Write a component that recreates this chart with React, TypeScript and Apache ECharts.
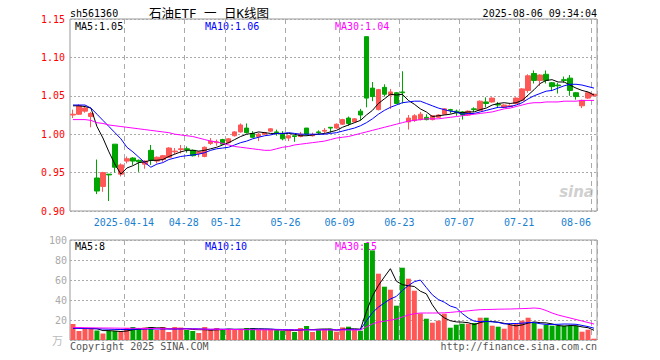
import React, { useEffect, useRef } from 'react';
import * as echarts from 'echarts';

const dates = ['2025-03-31','2025-04-01','2025-04-02','2025-04-03','2025-04-07','2025-04-08','2025-04-09','2025-04-10','2025-04-11','2025-04-14','2025-04-15','2025-04-16','2025-04-17','2025-04-18','2025-04-21','2025-04-22','2025-04-23','2025-04-24','2025-04-25','2025-04-28','2025-04-29','2025-04-30','2025-05-06','2025-05-07','2025-05-08','2025-05-09','2025-05-12','2025-05-13','2025-05-14','2025-05-15','2025-05-16','2025-05-19','2025-05-20','2025-05-21','2025-05-22','2025-05-23','2025-05-26','2025-05-27','2025-05-28','2025-05-29','2025-05-30','2025-06-03','2025-06-04','2025-06-05','2025-06-06','2025-06-09','2025-06-10','2025-06-11','2025-06-12','2025-06-13','2025-06-16','2025-06-17','2025-06-18','2025-06-19','2025-06-20','2025-06-23','2025-06-24','2025-06-25','2025-06-26','2025-06-27','2025-06-30','2025-07-01','2025-07-02','2025-07-03','2025-07-04','2025-07-07','2025-07-08','2025-07-09','2025-07-10','2025-07-11','2025-07-14','2025-07-15','2025-07-16','2025-07-17','2025-07-18','2025-07-21','2025-07-22','2025-07-23','2025-07-24','2025-07-25','2025-07-28','2025-07-29','2025-07-30','2025-07-31','2025-08-01','2025-08-04','2025-08-05','2025-08-06'];

const labeledDates = ['2025-04-14','2025-04-28','2025-05-12','2025-05-26','2025-06-09','2025-06-23','2025-07-07','2025-07-21','2025-08-06'];

const opens = [1.025,1.026,1.030,1.023,0.943,0.932,0.948,0.987,0.948,0.965,
 0.969,0.966,0.961,0.979,0.965,0.967,0.970,0.977,0.980,0.981,
 0.979,0.975,0.971,0.988,0.989,0.993,0.989,0.998,1.003,1.008,
 1.001,0.997,1.000,1.004,1.003,1.000,0.995,0.998,0.997,1.008,
 0.998,1.003,1.004,1.009,1.008,1.013,1.021,1.016,1.030,1.127,
 1.060,1.032,1.061,1.051,1.054,1.055,1.016,1.018,1.019,1.022,
 1.019,1.022,1.026,1.032,1.030,1.029,1.025,1.033,1.031,1.042,
 1.042,1.039,1.035,1.036,1.040,1.044,1.057,1.079,1.070,1.078,
 1.067,1.064,1.071,1.073,1.054,1.037,1.047,1.050];
const closes = [1.026,1.037,1.034,1.027,0.926,0.950,0.947,0.957,0.960,0.968,
 0.965,0.964,0.965,0.966,0.970,0.972,0.982,0.978,0.981,0.980,
 0.972,0.977,0.983,0.991,0.990,0.987,0.994,1.003,1.012,1.002,
 0.996,1.000,1.002,1.007,1.002,0.994,0.998,0.997,1.000,1.000,
 0.999,1.002,1.005,1.008,1.013,1.019,1.014,1.020,1.025,1.047,
 1.049,1.058,1.052,1.055,1.040,1.054,1.021,1.024,1.026,1.019,
 1.024,1.025,1.033,1.031,1.028,1.025,1.030,1.032,1.043,1.040,
 1.047,1.038,1.038,1.037,1.047,1.059,1.076,1.070,1.077,1.070,
 1.062,1.063,1.070,1.057,1.049,1.044,1.054,1.052];
const lows = [1.021,1.025,1.028,1.009,0.922,0.925,0.913,0.950,0.945,0.962,
 0.960,0.951,0.955,0.960,0.962,0.964,0.969,0.974,0.975,0.976,
 0.971,0.970,0.970,0.986,0.985,0.986,0.988,0.997,1.002,1.001,
 0.995,0.991,0.999,1.003,0.998,0.992,0.991,0.990,0.996,0.998,
 0.997,0.999,1.000,1.002,1.007,1.012,1.011,1.015,1.018,1.035,
 1.043,1.031,1.049,1.033,1.039,1.040,1.006,1.016,1.018,1.018,
 1.018,1.021,1.025,1.027,1.024,1.019,1.024,1.029,1.030,1.035,
 1.041,1.034,1.034,1.035,1.039,1.043,1.054,1.066,1.063,1.066,
 1.056,1.053,1.067,1.050,1.045,1.034,1.046,1.049];
const highs = [1.032,1.039,1.037,1.029,0.967,0.951,0.948,0.987,0.962,0.971,
 0.970,0.967,0.966,0.986,0.971,0.973,0.983,0.982,0.986,0.984,
 0.980,0.978,0.984,0.995,0.993,0.994,0.995,1.004,1.014,1.014,
 1.004,1.002,1.003,1.008,1.006,1.004,0.999,0.998,1.003,1.008,
 1.002,1.005,1.008,1.009,1.014,1.020,1.023,1.021,1.033,1.127,
 1.068,1.059,1.065,1.059,1.055,1.082,1.025,1.026,1.029,1.026,
 1.025,1.026,1.034,1.033,1.032,1.030,1.031,1.035,1.044,1.048,
 1.048,1.042,1.039,1.039,1.048,1.060,1.078,1.083,1.078,1.083,
 1.068,1.067,1.075,1.077,1.055,1.045,1.055,1.053];

const priceMA5 = [1.037,1.037,1.036,1.034,1.010,0.995,0.977,0.961,0.948,0.956,
 0.959,0.963,0.964,0.966,0.966,0.967,0.971,0.974,0.977,0.979,
 0.979,0.978,0.979,0.981,0.983,0.986,0.989,0.993,0.997,1.000,
 1.001,1.003,1.002,1.001,1.001,1.001,1.001,1.000,0.998,0.998,
 0.999,1.000,1.001,1.003,1.005,1.009,1.012,1.015,1.018,1.025,
 1.031,1.040,1.046,1.052,1.051,1.052,1.044,1.039,1.033,1.029,
 1.023,1.024,1.025,1.026,1.028,1.028,1.029,1.029,1.032,1.034,
 1.038,1.040,1.041,1.040,1.041,1.044,1.051,1.058,1.066,1.070,
 1.071,1.068,1.068,1.064,1.060,1.057,1.055,1.051];
const priceMA10 = [1.038,1.038,1.038,1.034,1.026,1.018,1.010,1.002,0.994,0.983,
 0.977,0.970,0.963,0.957,0.961,0.963,0.967,0.969,0.971,0.972,
 0.973,0.974,0.976,0.979,0.981,0.982,0.983,0.986,0.989,0.991,
 0.994,0.996,0.998,0.999,1.001,1.001,1.002,1.001,1.000,1.000,
 1.000,1.000,1.000,1.001,1.002,1.004,1.006,1.008,1.011,1.015,
 1.020,1.026,1.031,1.035,1.038,1.041,1.042,1.043,1.043,1.040,
 1.037,1.034,1.032,1.030,1.029,1.026,1.027,1.027,1.029,1.031,
 1.033,1.035,1.035,1.036,1.038,1.041,1.046,1.050,1.053,1.056,
 1.057,1.060,1.063,1.065,1.065,1.064,1.062,1.060];
const priceMA30 = [1.019,1.019,1.019,1.018,1.015,1.014,1.012,1.011,1.010,1.009,
 1.008,1.007,1.006,1.005,1.004,1.003,1.002,1.000,0.999,0.998,
 0.997,0.995,0.993,0.991,0.990,0.988,0.986,0.984,0.983,0.982,
 0.981,0.980,0.979,0.979,0.981,0.983,0.984,0.986,0.987,0.988,
 0.989,0.990,0.991,0.993,0.995,0.996,0.997,0.999,1.001,1.003,
 1.005,1.007,1.009,1.011,1.013,1.015,1.017,1.018,1.019,1.020,
 1.020,1.020,1.021,1.022,1.023,1.024,1.025,1.026,1.027,1.028,
 1.029,1.031,1.033,1.034,1.036,1.038,1.040,1.041,1.041,1.042,
 1.042,1.042,1.043,1.043,1.043,1.044,1.044,1.044];

const volumes = [16,9,11,11,9.5,6.5,9,9,8.5,12,
 13,12,12.5,13,10,13,8,13,12.5,10,
 9,7,13,10,12,10,10,11,11,12,
 12,10,10,10,10,9,10,8,12,14,
 8,10,11,11.3,8.3,12.6,13.3,10.3,9.3,97,
 89.6,66.3,53.3,50.3,34.3,72.3,61.3,49.3,26.6,21.3,
 17.3,19.3,26.3,12.3,15.3,16.3,16.3,17,22.3,22.3,
 14.3,13.3,11.3,15.3,16.3,19.3,22.3,17.3,11.3,15.3,
 14.3,14.3,14.3,14.3,14.3,8.3,10.3,1.3];
const volMA5 = [12,12,11.5,11.5,11.3,9.4,9.4,9.0,8.5,9.0,
 10.3,10.9,11.6,12.5,12.1,12.1,11.3,11.4,11.3,11.3,
 10.5,10.3,10.3,9.8,10.2,10.4,11,10.6,10.8,10.8,
 11.2,11.2,11,10.8,10.4,9.8,9.8,9.4,9.8,10.6,
 10.4,10.8,11,10.9,9.7,10.7,11.1,11.2,10.8,28.5,
 43.9,54.5,63.1,71.3,58.8,55.3,54.3,53.5,48.8,46.2,
 35.2,26.8,22.2,19.3,18.1,17.9,17.3,15.4,17.4,18.8,
 18.4,17.8,16.7,15.3,14.1,15.1,16.9,18.1,17.3,17.1,
 16.1,14.5,13.9,14.5,14.3,13.1,12.3,9.7];
const volMA10 = [11.8,11.6,11.5,11.3,11.2,11.0,10.8,10.6,10.5,10.5,
 10.6,10.8,10.9,11.0,11.0,11.0,10.9,10.9,11.0,11.3,
 11.3,11.2,10.9,10.6,10.8,10.8,10.7,10.7,10.6,10.5,
 10.8,10.8,10.9,10.8,10.6,10.5,10.5,10.3,10.2,10.5,
 10.2,10.3,10.4,10.4,10.3,10.4,10.6,10.6,10.5,19.1,
 27.3,32.9,37.1,41.0,43.6,49.6,54.4,58.3,60.0,52.5,
 45.2,40.5,37.8,34.0,32.1,26.5,22.0,18.8,18.4,18.5,
 18.2,17.6,16.1,16.4,16.5,16.8,17.4,17.4,16.3,15.6,
 15.6,15.7,16.0,15.9,15.7,14.6,13.4,11.8];
const volMA30 = [12.5,12.4,12.3,12.2,12.1,12.0,12.0,11.9,11.8,11.8,
 11.7,11.6,11.5,11.5,11.4,11.3,11.2,11.2,11.1,11.0,
 11.0,10.9,10.8,10.8,10.7,10.6,10.5,10.5,10.4,10.3,
 10.3,10.2,10.2,10.1,10.1,10.0,10.0,10.0,10.0,10.0,
 10.0,10.0,10.0,10.0,10.0,10.0,10.0,10.0,10.0,13.1,
 16.0,18.0,18.8,19.8,21.0,23.0,25.0,26.3,27.0,27.0,
 27.0,27.0,27.2,27.6,28.2,28.6,29.2,29.8,30.3,30.5,
 30.6,30.8,30.9,31.0,31.2,31.4,31.6,32.0,31.5,29.5,
 27.0,25.0,23.5,22.0,20.5,19.0,17.5,16.0];

const UP = '#ff5656';
const DOWN = '#00a600';
const MONO = '"DejaVu Sans Mono", monospace';
const GRID_LEFT = 70;
const GRID_W = 527;

export default function App() {
  const ref = useRef<HTMLDivElement>(null);
  useEffect(() => {
    const chart = echarts.init(ref.current!, null, { renderer: 'svg' });
    const candleData = dates.map((_, i) => [opens[i], closes[i], lows[i], highs[i]]);
    const volData = volumes.map((v, i) => ({
      value: v,
      itemStyle: { color: closes[i] >= opens[i] ? UP : DOWN },
    }));
    const lastDate = dates[dates.length - 1];
    const isMarked = (_i: number, v: string) => labeledDates.indexOf(v) >= 0;
    const splitX = {
      show: true,
      interval: (i: number) => labeledDates.indexOf(dates[i]) >= 0,
      lineStyle: { color: '#aaaaaa', type: [5, 4], width: 1 },
    };
    const lineS = (name: string, data: number[], color: string, x: number) => ({
      name, type: 'line', data, xAxisIndex: x, yAxisIndex: x,
      symbol: 'none', smooth: false, silent: true,
      lineStyle: { color, width: 1 }, z: 5,
    });
    const txt = (text: string, x: number, y: number, fill: string, align = 'left', font = `10px ${MONO}`) => ({
      type: 'text', x, y, silent: true,
      style: { text, fill, font, align, verticalAlign: 'middle' },
    });
    const option: any = {
      animation: false,
      backgroundColor: '#ffffff',
      grid: [
        { left: GRID_LEFT, top: 19, width: GRID_W, height: 192, show: true, borderColor: '#999999', borderWidth: 1 },
        { left: GRID_LEFT, top: 240, width: GRID_W, height: 100, show: true, borderColor: '#999999', borderWidth: 1 },
      ],
      xAxis: [
        {
          type: 'category', data: dates, gridIndex: 0, boundaryGap: true,
          axisLine: { show: false }, axisTick: { show: false },
          axisLabel: {
            show: true, interval: isMarked, color: '#1a80d0', fontFamily: MONO, fontSize: 10,
            margin: 6, padding: [0, 6, 0, 0],
            formatter: (v: string) => (v === labeledDates[0] ? v : v === lastDate ? `{r|${v.slice(5)}}` : v.slice(5)),
            rich: { r: { color: '#1a80d0', fontFamily: MONO, fontSize: 10, padding: [0, 30, 0, 0] } },
          },
          splitLine: splitX,
        },
        {
          type: 'category', data: dates, gridIndex: 1, boundaryGap: true,
          axisLine: { show: false }, axisTick: { show: false }, axisLabel: { show: false },
          splitLine: splitX,
        },
      ],
      yAxis: [
        {
          type: 'value', gridIndex: 0, min: 0.9, max: 1.15, interval: 0.05,
          axisLine: { show: false }, axisTick: { show: false },
          axisLabel: { color: '#ff0000', fontFamily: MONO, fontSize: 10, margin: 5, formatter: (v: number) => v.toFixed(2) },
          splitLine: { show: true, lineStyle: { color: '#aaaaaa', type: [2, 2], width: 1 } },
        },
        {
          type: 'value', gridIndex: 1, min: 0, max: 100, interval: 20,
          axisLine: { show: false }, axisTick: { show: false },
          axisLabel: { color: '#aaaaaa', fontFamily: MONO, fontSize: 10, margin: 3, formatter: (v: number) => (v === 0 ? '' : String(v)) },
          splitLine: { show: true, lineStyle: { color: '#aaaaaa', type: [2, 2], width: 1 } },
        },
      ],
      series: [
        {
          type: 'candlestick', data: candleData, xAxisIndex: 0, yAxisIndex: 0, barWidth: 5, silent: true,
          itemStyle: { color: UP, color0: DOWN, borderColor: UP, borderColor0: DOWN, borderWidth: 1 },
          z: 3,
        },
        lineS('MA5', priceMA5, '#000000', 0),
        lineS('MA10', priceMA10, '#0000ff', 0),
        lineS('MA30', priceMA30, '#ff00ff', 0),
        { type: 'bar', data: volData, xAxisIndex: 1, yAxisIndex: 1, barWidth: 5, silent: true, z: 3 },
        lineS('VMA5', volMA5, '#000000', 1),
        lineS('VMA10', volMA10, '#0000ff', 1),
        lineS('VMA30', volMA30, '#ff00ff', 1),
      ],
      graphic: [
        txt('sh561360', 70, 13, '#000000'),
        txt('石油ETF 一 日K线图', 209, 13, '#000000', 'center', `12.5px "DejaVu Sans Mono", "Noto Sans CJK SC"`),
        txt('2025-08-06 09:34:04', 597, 13, '#000000', 'right'),
        txt('MA5:1.05', 75, 26, '#000000'),
        txt('MA10:1.06', 205, 26, '#0000ff'),
        txt('MA30:1.04', 335, 26, '#ff00ff'),
        txt('MA5:8', 75, 246, '#000000'),
        txt('MA10:10', 205, 246, '#0000ff'),
        txt('MA30:15', 335, 246, '#ff00ff'),
        txt('万', 63, 340, '#bbbbbb', 'right', `11px "Noto Sans CJK SC"`),
        txt('Copyright 2025 SINA.COM', 70, 346, '#555555'),
        txt('http://finance.sina.com.cn', 597, 346, '#555555', 'right'),
        txt('sina', 594, 192, '#d0d0d0', 'right', `italic bold 15px "DejaVu Sans"`),
      ],
    };
    chart.setOption(option);
    return () => chart.dispose();
  }, []);
  return <div ref={ref} style={{ width: 660, height: 360, position: 'absolute', left: 0, top: 0 }} />;
}
